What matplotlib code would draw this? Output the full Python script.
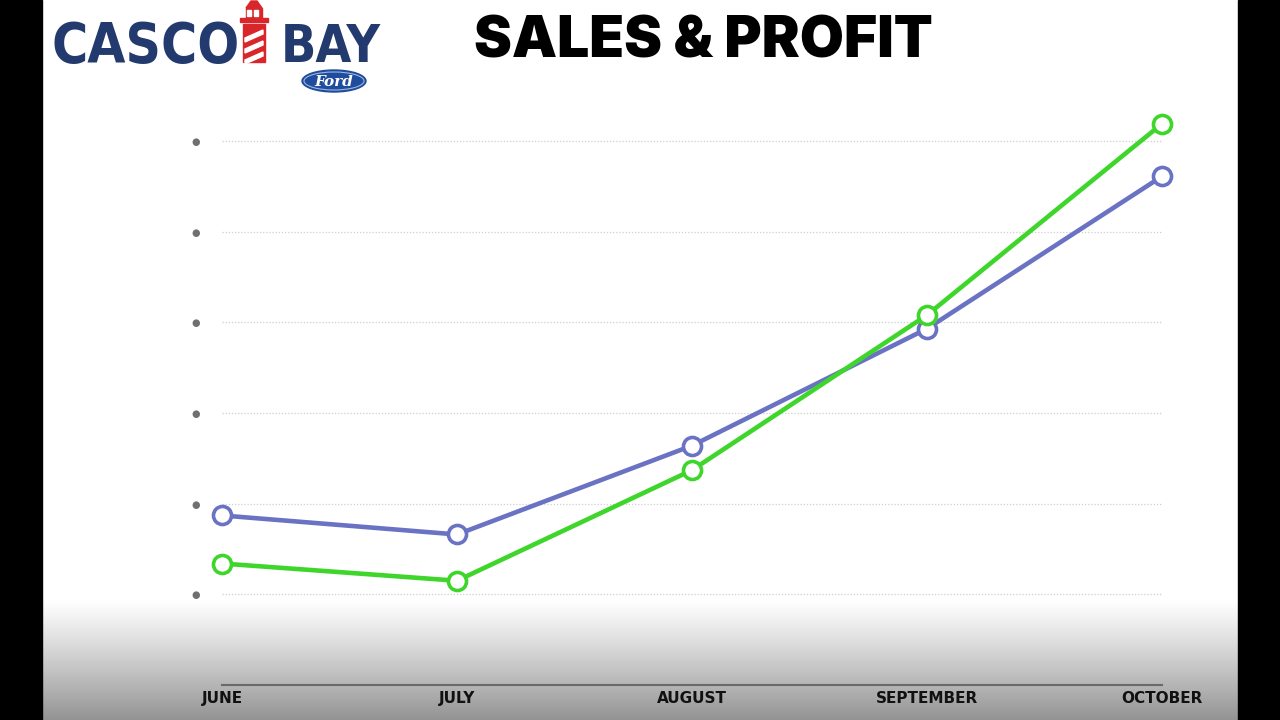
import numpy as np
import matplotlib
matplotlib.use("Agg")
import matplotlib.pyplot as plt
from matplotlib.patches import Rectangle, Ellipse, Polygon

months = ["JUNE", "JULY", "AUGUST", "SEPTEMBER", "OCTOBER"]
sales = [1.87, 1.66, 2.64, 3.93, 5.61]
profit = [1.34, 1.15, 2.37, 4.08, 6.19]
ytick_vals = [1, 2, 3, 4, 5, 6]
ytick_labels = ["●"] * 6

W, H = 1280, 720
fig = plt.figure(figsize=(12.8, 7.2), dpi=100)

# background layer
bg = fig.add_axes([0, 0, 1, 1], zorder=0)
bg.set_xlim(0, W); bg.set_ylim(H, 0); bg.axis("off")
g = np.linspace(0, 1, 120) ** 1.1
grad = 1 - 0.42 * g
img = np.repeat(np.dstack([grad, grad, grad]).reshape(120, 1, 3), 2, axis=1)
bg.imshow(img, extent=(0, W, 720, 600), aspect="auto", zorder=1)
bg.add_patch(Rectangle((0, 0), 42, H, color="black", zorder=2))
bg.add_patch(Rectangle((1238, 0), 42, H, color="black", zorder=2))

# logo
navy = "#233a6e"
renderer = fig.canvas.get_renderer()


def fit_text(x, y, s, target_w, fs):
    t = bg.text(x, y, s, fontsize=fs, fontweight="bold", color=navy,
                family="DejaVu Sans", fontstretch="condensed",
                va="baseline", ha="left", zorder=3)
    w = t.get_window_extent(renderer).width
    if w > target_w:
        t.set_fontsize(fs * target_w / w)
    return t


fit_text(52, 62, "CASCO", 188, 48)
fit_text(281, 62, "BAY", 100, 48)

# lighthouse
red = "#d8262b"
bg.add_patch(Polygon([[251, 1], [257, 1], [262, 8], [246, 8]], color=red, zorder=3))
bg.add_patch(Rectangle((246, 8), 16, 10, color=red, zorder=3))
bg.add_patch(Rectangle((247, 10), 4, 6, color="white", zorder=4))
bg.add_patch(Rectangle((254, 10), 4, 6, color="white", zorder=4))
bg.add_patch(Rectangle((240, 18), 28, 4, color=red, zorder=3))
bg.add_patch(Rectangle((243, 24), 22, 38, color=red, zorder=3))
for k in range(3):
    y0 = 30 + k * 11
    bg.add_patch(Polygon([[245, y0 + 8], [263, y0], [263, y0 + 4], [245, y0 + 12]],
                         color="white", zorder=4))

# Ford oval
bg.add_patch(Ellipse((334, 81), 64, 22, color="#1f4c9c", zorder=3))
bg.add_patch(Ellipse((334, 81), 60, 18, fill=False, ec="#9bb6e0", lw=0.8, zorder=4))
bg.text(334, 82, "Ford", fontsize=11, color="white", style="italic", fontweight="bold",
        family="DejaVu Serif", ha="center", va="center", zorder=5)

# title
fig.text(703 / W, 1 - 42 / H, "SALES & PROFIT", fontsize=41, fontweight="black",
         family="Inter", ha="center", va="center", color="black", zorder=5)

# chart axes
x0, x1 = 222, 1162
ybase, ytop = 685, 95
upp = (685 - 141) / 6.0
ymax = (ybase - ytop) / upp
ax = fig.add_axes([x0 / W, 1 - ybase / H, (x1 - x0) / W, (ybase - ytop) / H], zorder=2)
ax.patch.set_alpha(0)
ax.set_xlim(0, len(months) - 1)
ax.set_ylim(0, ymax)
for s in ["top", "right", "left"]:
    ax.spines[s].set_visible(False)
ax.spines["bottom"].set_color("#6a6a6a")
ax.spines["bottom"].set_linewidth(1.5)
ax.set_yticks(ytick_vals)
ax.set_yticklabels(ytick_labels, fontsize=7, color="#707070")
ax.tick_params(axis="y", length=0, pad=16)
ax.set_xticks(range(len(months)))
ax.set_xticklabels(months, fontsize=11, fontweight="bold", color="#111111")
ax.tick_params(axis="x", length=0, pad=4)
ax.grid(axis="y", color="#cfcfcf", linestyle=(0, (1, 1.5)), linewidth=0.9)
ax.set_axisbelow(True)

xs = np.arange(len(months))
ax.plot(xs, sales, color="#6a72c4", lw=3.3, marker="o", ms=13, mfc="white",
        mec="#6a72c4", mew=2.6, clip_on=False, zorder=3)
ax.plot(xs, profit, color="#3fd62b", lw=3.3, marker="o", ms=13, mfc="white",
        mec="#3fd62b", mew=2.6, clip_on=False, zorder=4)

fig.savefig("out.png", dpi=100, facecolor="white")
